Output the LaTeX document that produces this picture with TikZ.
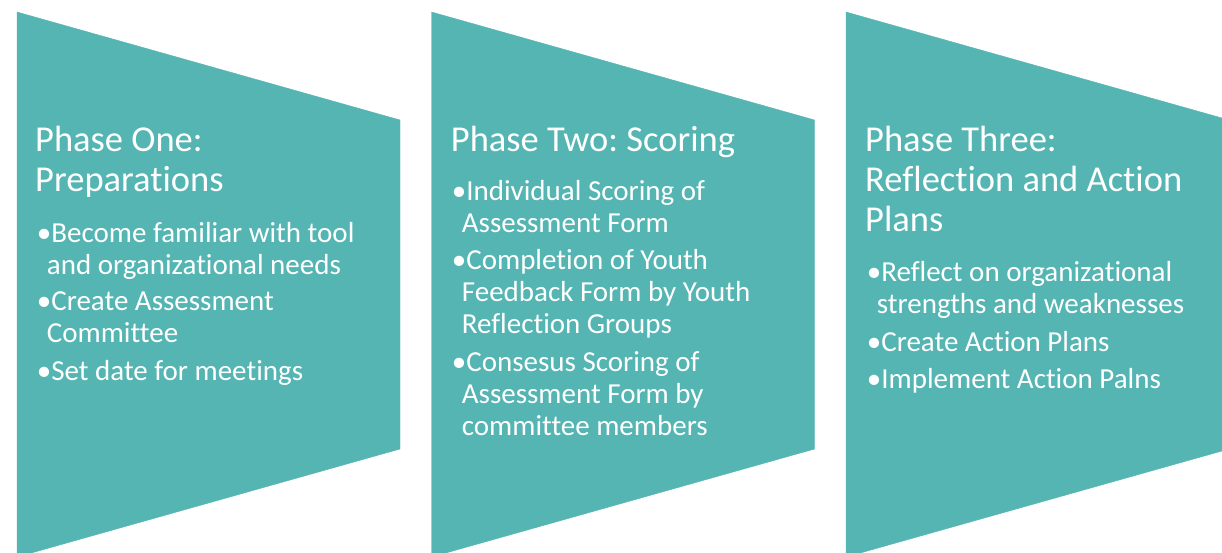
\documentclass[tikz,border=0pt]{standalone}
\usepackage{fontspec}
\setmainfont{Carlito}[Ligatures=NoCommon]
\frenchspacing

\tikzset{
  phasetitle/.style={text=white, inner sep=0pt, anchor=base west, align=left,
    font=\fontsize{36.5}{40}\selectfont},
  phaseitem/.style={text=white, inner sep=0pt, anchor=base west, align=left,
    font=\fontsize{29}{32}\selectfont}
}
\newcommand{\contline}{\\\hspace*{10pt}}

\begin{document}
\begin{tikzpicture}[x=1pt,y=-1pt]

    % Define colors
    \definecolor{phaseteal}{RGB}{84,181,179}

    \clip (0,0) rectangle (1222,552);
    \useasboundingbox (0,0) rectangle (1222,552);

    % the three phase shapes
    \foreach \x in {17,431.5,846} {
        \filldraw[phaseteal] (\x,12) -- (\x+383,120) -- (\x+383,449) -- (\x,557) -- cycle;
    }

    % nodes are placed at the baseline of their last line
    %-------------
    % Phase one
    \node[phasetitle] (titleone) at (35,191.7) {Phase One:\\Preparations};
    \node[phaseitem] (oneA) at (36.7,274) {•Become familiar with tool\contline and organizational needs};
    \node[phaseitem] (oneB) at (36.7,342.7) {•Create Assessment\contline Committee};
    \node[phaseitem] (oneC) at (36.7,380) {•Set date for meetings};

    %-------------
    % Phase two
    \node[phasetitle] (titletwo) at (450.7,151.7) {Phase Two: Scoring};
    \node[phaseitem] (twoA) at (451.7,232.7) {•Individual Scoring of\contline Assessment Form};
    \node[phaseitem] (twoB) at (451.7,333.3) {•Completion of Youth\contline Feedback Form by Youth\contline Reflection Groups};
    \node[phaseitem] (twoC) at (451.7,435) {•Consesus Scoring of\contline Assessment Form by\contline committee members};

    %-------------
    % Phase three
    \node[phasetitle] (titlethree) at (865,231.7) {Phase Three:\\Reflection and Action\\Plans};
    \node[phaseitem] (threeA) at (866.7,313.3) {•Reflect on organizational\contline strengths and weaknesses};
    \node[phaseitem] (threeB) at (866.7,351.7) {•Create Action Plans};
    \node[phaseitem] (threeC) at (866.7,388.3) {•Implement Action Palns};

\end{tikzpicture}
\end{document}
